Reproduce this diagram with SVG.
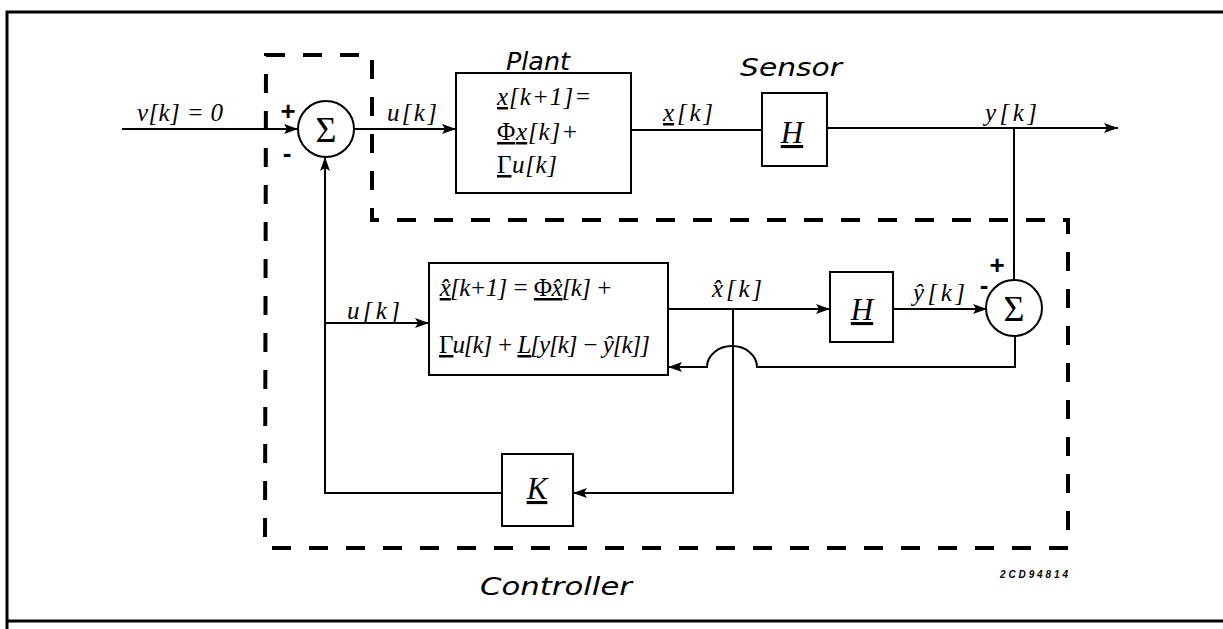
<svg xmlns="http://www.w3.org/2000/svg" width="1223" height="629" viewBox="0 0 1223 629">
<style>
.frame{fill:none;stroke:#000;stroke-width:3}
.dash{fill:none;stroke:#000;stroke-width:4;stroke-dasharray:19 18}
.box{fill:#fff;stroke:#000;stroke-width:2}
.wire{fill:none;stroke:#000;stroke-width:2}
.arr{marker-end:url(#ah)}
.math{font-family:"Liberation Serif","Times New Roman","DejaVu Serif",serif;font-style:italic;font-size:25px;fill:#000}
.mathb{font-family:"Liberation Serif","Times New Roman","DejaVu Serif",serif;font-style:italic;font-size:31px;fill:#000}
.sig{font-family:"Liberation Serif","Times New Roman","DejaVu Serif",serif;font-size:36px;fill:#000}
.title{font-family:"DejaVu Sans","Liberation Sans",sans-serif;font-style:italic;font-size:25px;fill:#000}
.sign{font-family:"Liberation Sans",Arial,sans-serif;font-weight:bold;font-size:26px;fill:#000}
.code{font-family:"Liberation Sans",Arial,sans-serif;font-weight:bold;font-style:italic;font-size:10px;fill:#000}
.ul{text-decoration:underline}
</style>
<defs>
<marker id="ah" markerWidth="14" markerHeight="10" refX="14" refY="5" orient="auto" markerUnits="userSpaceOnUse">
<path d="M0,0 L14,5 L0,10 L3,5 Z" fill="#000"/>
</marker>
</defs>
<rect width="1223" height="629" fill="#fff"/>
<path class="frame" d="M1223,12 H7 V629 M7,621 H1223"/>
<path class="dash" d="M266,55 H372 V220 H1068 V548 H265 Z"/>

<g id="connectors">
<path class="wire arr" d="M122,129 H298"/>
<path class="wire arr" d="M354,129 H456"/>
<path class="wire" d="M631,130 H762"/>
<path class="wire arr" d="M827,128 H1118"/>
<path class="wire" d="M1014,128 V280"/>
<path class="wire arr" d="M668,309 H830"/>
<path class="wire arr" d="M893,309 H987"/>
<path class="wire arr" d="M1015,336 V367 H757 A25,21 0 0 0 707,367 H668"/>
<path class="wire arr" d="M733,309 V493 H573"/>
<path class="wire arr" d="M502,493 H325 V157"/>
<path class="wire arr" d="M325,323 H429"/>
</g>

<g id="sum1">
<circle cx="326" cy="129" r="28" fill="#fff" stroke="#000" stroke-width="2"/>
<text class="sig" x="326" y="142" text-anchor="middle">Σ</text>
<text class="sign" x="288" y="120" text-anchor="middle">+</text>
<text class="sign" x="287" y="162" text-anchor="middle">-</text>
</g>

<g id="plant">
<rect class="box" x="456" y="73" width="175" height="120"/>
<text class="title" x="506" y="70" textLength="64" lengthAdjust="spacingAndGlyphs">Plant</text>
<text class="math" x="497" y="105" textLength="94" lengthAdjust="spacing"><tspan class="ul">x</tspan>[k+1]=</text>
<text class="math" x="497" y="140" textLength="81" lengthAdjust="spacing"><tspan class="ul" font-style="normal">Φ</tspan><tspan class="ul">x</tspan>[k]+</text>
<text class="math" x="497" y="173" textLength="60" lengthAdjust="spacing"><tspan class="ul" font-style="normal">Γ</tspan>u[k]</text>
</g>

<g id="sensor">
<rect class="box" x="762" y="93" width="65" height="73"/>
<text class="title" x="740" y="76" textLength="102" lengthAdjust="spacingAndGlyphs">Sensor</text>
<text class="mathb" x="792" y="143" text-anchor="middle"><tspan class="ul">H</tspan></text>
</g>

<g id="observer">
<rect class="box" x="429" y="263" width="239" height="112"/>
<text class="math" x="439" y="296" textLength="173" lengthAdjust="spacing"><tspan class="ul">x̂</tspan>[k+1] = <tspan class="ul" font-style="normal">Φ</tspan><tspan class="ul">x̂</tspan>[k] +</text>
<text class="math" x="439" y="353" textLength="211" lengthAdjust="spacing"><tspan class="ul" font-style="normal">Γ</tspan>u[k] + <tspan class="ul">L</tspan>[y[k] − ŷ[k]]</text>
</g>

<g id="observer-h">
<rect class="box" x="830" y="272" width="63" height="70"/>
<text class="mathb" x="862" y="320" text-anchor="middle"><tspan class="ul">H</tspan></text>
</g>

<g id="sum2">
<circle cx="1014" cy="308" r="28" fill="#fff" stroke="#000" stroke-width="2"/>
<text class="sig" x="1014" y="321" text-anchor="middle">Σ</text>
<text class="sign" x="997" y="274" text-anchor="middle">+</text>
<text class="sign" x="984" y="294" text-anchor="middle">-</text>
</g>

<g id="gain">
<rect class="box" x="502" y="454" width="71" height="72"/>
<text class="mathb" x="537" y="499" text-anchor="middle"><tspan class="ul">K</tspan></text>
</g>

<g id="labels">
<text class="math" x="137" y="121" textLength="86" lengthAdjust="spacing">v[k] = 0</text>
<text class="math" x="387" y="121" textLength="50" lengthAdjust="spacing">u[k]</text>
<text class="math" x="663" y="121" textLength="50" lengthAdjust="spacing"><tspan class="ul">x</tspan>[k]</text>
<text class="math" x="985" y="121" textLength="52" lengthAdjust="spacing">y[k]</text>
<text class="math" x="347" y="319" textLength="53" lengthAdjust="spacing">u[k]</text>
<text class="math" x="712" y="297" textLength="50" lengthAdjust="spacing">x̂[k]</text>
<text class="math" x="913" y="301" textLength="52" lengthAdjust="spacing">ŷ[k]</text>
<text class="title" x="480" y="595" textLength="152" lengthAdjust="spacingAndGlyphs">Controller</text>
<text class="code" x="1000" y="578" textLength="68" lengthAdjust="spacing">2CD94814</text>
</g>
</svg>
